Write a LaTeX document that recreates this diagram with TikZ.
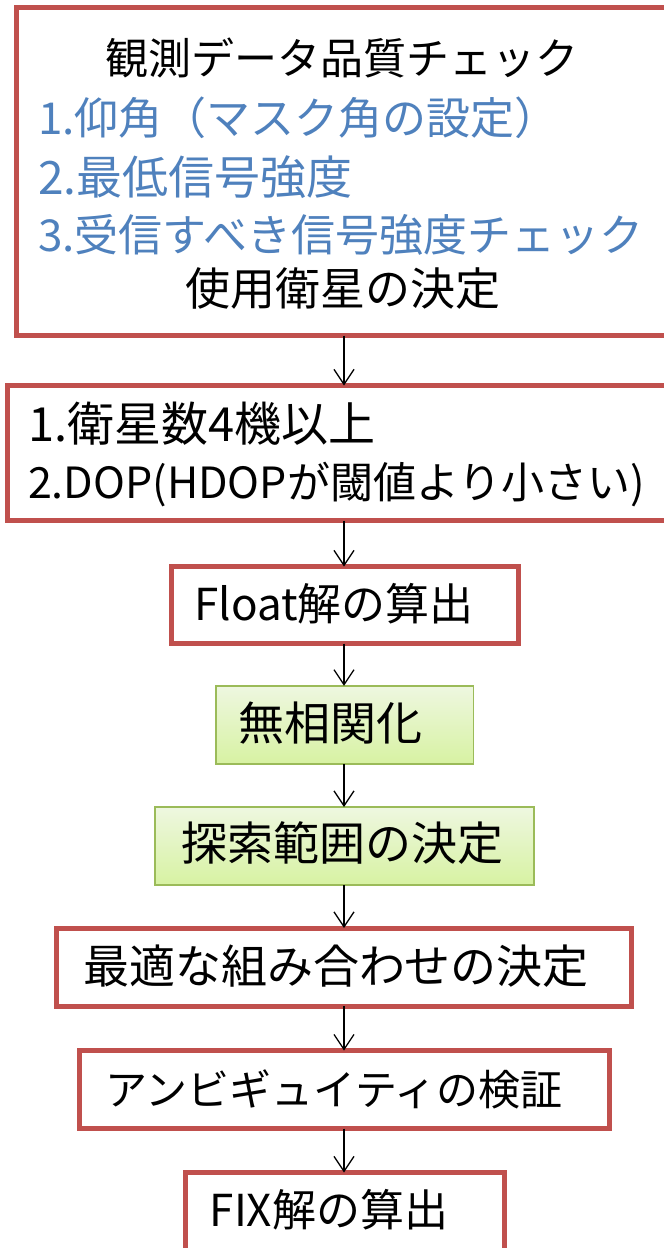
\documentclass[tikz,border=0pt]{standalone}
\usepackage{fontspec}
\setmainfont{Noto Sans CJK JP}
\usetikzlibrary{arrows.meta}
\definecolor{boxred}{HTML}{C0504D}
\definecolor{txtblue}{HTML}{4F81BD}
\definecolor{grnborder}{HTML}{9BBB59}
\definecolor{grntop}{HTML}{EEF7E0}
\definecolor{grnbot}{HTML}{D7F2A2}
\tikzset{
  redbox/.style={draw=boxred, line width=5pt, fill=white, inner sep=0pt, outer sep=0pt},
  grnbox/.style={draw=grnborder, line width=1.6pt, top color=grntop, bottom color=grnbot, inner sep=0pt, outer sep=0pt},
  txt/.style={inner sep=0pt, outer sep=0pt, text height=0.88*#1pt, text depth=0.12*#1pt, font=\fontsize{#1pt}{#1pt}\selectfont},
  arr/.style={draw=black, line width=1.3pt, -{Straight Barb[length=15pt,width=20pt,line width=1.3pt]}}
}
\begin{document}
\begin{tikzpicture}[x=1pt,y=-1pt]
\useasboundingbox (0,0) rectangle (664,1248);
\clip (0,0) rectangle (664,1248);
% boxes
\node[redbox, minimum width=653pt, minimum height=328pt] (b1) at (343,171.5) {};
\node[redbox, minimum width=672pt, minimum height=135pt] (b2) at (343.75,453) {};
\node[redbox, minimum width=347.5pt, minimum height=77pt] (b3) at (344.75,605) {};
\node[grnbox, minimum width=257.6pt, minimum height=78.3pt] (b4) at (344.5,725) {};
\node[grnbox, minimum width=379pt, minimum height=78pt] (b5) at (344.5,846) {};
\node[redbox, minimum width=575pt, minimum height=78pt] (b6) at (343.5,967) {};
\node[redbox, minimum width=530pt, minimum height=78pt] (b7) at (344.8,1089.6) {};
\node[redbox, minimum width=318.4pt, minimum height=78pt] (b8) at (344.8,1211.5) {};
% texts
\node[txt=43] (t1) at (342,58) {観測データ品質チェック};
\node[txt=44, text=txtblue, anchor=west] (t2) at (38,118) {1.仰角（マスク角の設定）};
\node[txt=46, text=txtblue, anchor=west] (t3) at (38,177) {2.最低信号強度};
\node[txt=44, text=txtblue, anchor=west] (t4) at (38,235) {3.受信すべき信号強度チェック};
\node[txt=45] (t5) at (343,288) {使用衛星の決定};
\node[txt=47, anchor=west] (t6) at (28,424) {1.衛星数4機以上};
\node[txt=43, anchor=west] (t7) at (28,482) {2.DOP(HDOPが閾値より小さい)};
\node[txt=44] (t8) at (334,604) {Float解の算出};
\node[txt=46] (t9) at (330,723) {無相関化};
\node[txt=46] (t10) at (342,843) {探索範囲の決定};
\node[txt=46] (t11) at (336,966) {最適な組み合わせの決定};
\node[txt=42] (t12) at (334,1090) {アンビギュイティの検証};
\node[txt=44] (t13) at (329,1210) {FIX解の算出};
% arrows
\coordinate (ax) at (344,0);
\draw[arr] (b1.south -| ax) -- (b2.north -| ax);
\draw[arr] (b2.south -| ax) -- (b3.north -| ax);
\draw[arr] (b3.south -| ax) -- (b4.north -| ax);
\draw[arr] (b4.south -| ax) -- (b5.north -| ax);
\draw[arr] (b5.south -| ax) -- (b6.north -| ax);
\draw[arr] (b6.south -| ax) -- (b7.north -| ax);
\draw[arr] (b7.south -| ax) -- (b8.north -| ax);
\end{tikzpicture}
\end{document}
